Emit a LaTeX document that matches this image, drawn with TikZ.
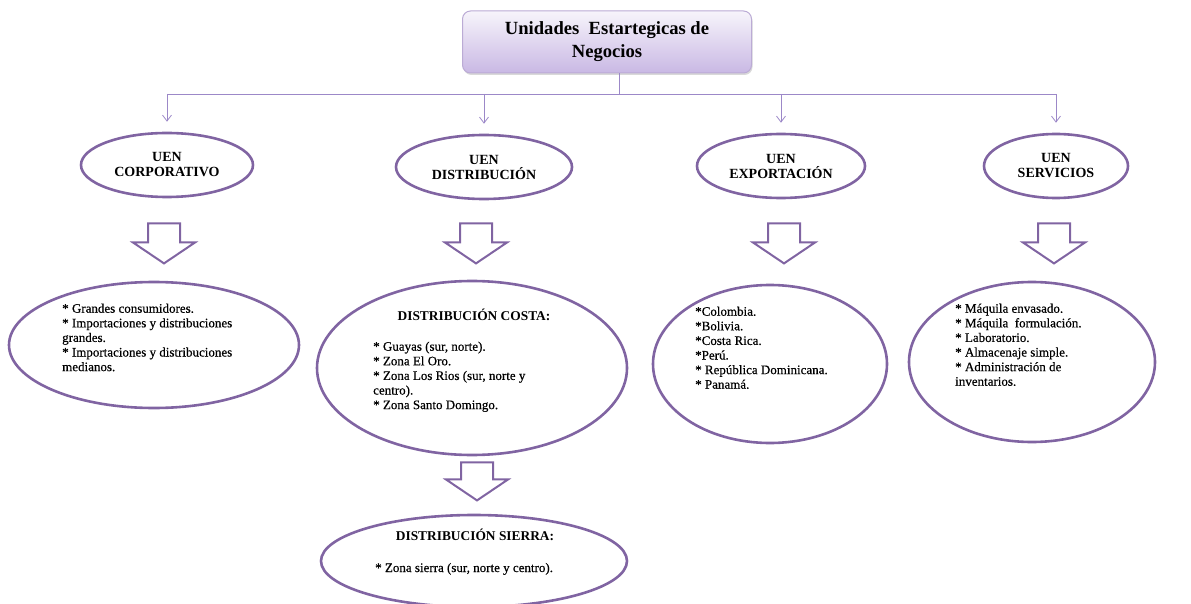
\documentclass[tikz,border=0pt]{standalone}
\usepackage{fontspec}
\setmainfont{Liberation Serif}
\newfontface\cuerpo{Liberation Serif}[FakeBold=0.5]
\usetikzlibrary{shapes.geometric,shapes.arrows,shadows,arrows.meta}
\definecolor{morado}{HTML}{8064A2}
\definecolor{lila}{HTML}{9C88C8}
\definecolor{lavanda}{HTML}{C9B8E4}
\definecolor{bordetit}{HTML}{BBABD5}
\tikzset{
  titulo/.style={draw=bordetit,line width=1pt,rounded corners=8pt,top color=white!85!lavanda,bottom color=lavanda,
    drop shadow={shadow xshift=1pt,shadow yshift=-2pt,opacity=.3},minimum width=289pt,minimum height=62pt,
    align=center,font=\fontsize{18.6}{23}\selectfont\bfseries},
  uen/.style={draw=morado,line width=2.6pt,ellipse,inner sep=0pt,align=center,font=\fontsize{14}{15}\selectfont\bfseries},
  elipse/.style={draw=morado,line width=2.6pt,ellipse,inner sep=0pt},
  lista/.style={inner sep=0pt,align=left,font=\fontsize{13}{14.6}\selectfont\cuerpo},
  cabecera/.style={inner sep=0pt,font=\fontsize{13.4}{14.6}\selectfont\bfseries},
  flecha/.style={single arrow,draw=morado,line width=2pt,shape border rotate=270,minimum height=40pt,minimum width=60pt,
    single arrow head extend=15pt,single arrow tip angle=112,inner xsep=15pt,inner ysep=0pt},
  rama/.style={draw=lila,line width=.8pt,-{Straight Barb[length=6pt,width=9pt]},shorten >=10pt}
}
\begin{document}
\begin{tikzpicture}[x=1pt,y=-1pt]
\useasboundingbox (0,0) rectangle (1191,604);
% titulo
\node[titulo] (tit) at (607,42) {Unidades\ \ Estartegicas de\\Negocios};
% unidades
\node[uen,minimum width=172pt,minimum height=64pt] (corp) at (167,165) {UEN\\CORPORATIVO};
\node[uen,minimum width=176pt,minimum height=64pt] (dist) at (484,167) {UEN\\DISTRIBUCIÓN};
\node[uen,minimum width=168pt,minimum height=64pt] (expo) at (781,166) {UEN\\EXPORTACIÓN};
\node[uen,minimum width=144pt,minimum height=64pt] (serv) at (1056,166) {UEN\\SERVICIOS};
% arbol
\coordinate (nudo) at (619,94);
\draw[lila,line width=.8pt] (nudo |- tit.south) -- (nudo);
\draw[lila,line width=.8pt] (nudo -| corp.north) -- (nudo -| serv.north);
\foreach \u in {corp,dist,expo,serv}
  \draw[rama] (nudo -| \u.north) -- (\u.north);
% flechas
\node[flecha] (fcorp) at (164,238) {};
\node[flecha] (fdist) at (476,238) {};
\node[flecha] (fexpo) at (784,238) {};
\node[flecha] (fserv) at (1054,238) {};
\node[flecha,minimum height=38pt] (fcosta) at (477,476) {};
% detalle
\node[elipse,minimum width=290pt,minimum height=126pt] (corpD) at (154,345) {};
\node[lista,anchor=north west] (corpT) at (62,303.5) {* Grandes consumidores.\\* Importaciones y distribuciones\\grandes.\\* Importaciones y distribuciones\\medianos.};
\node[elipse,minimum width=310pt,minimum height=174pt] (costaD) at (472,368) {};
\node[cabecera,anchor=base] (costaH) at (474,320) {DISTRIBUCIÓN COSTA:};
\node[lista,anchor=north west] (costaT) at (373,341.5) {* Guayas (sur, norte).\\* Zona El Oro.\\* Zona Los Rios (sur, norte y\\centro).\\* Zona Santo Domingo.};
\node[elipse,minimum width=306pt,minimum height=92pt] (sierraD) at (474,561) {};
\node[cabecera,anchor=base] (sierraH) at (475,540) {DISTRIBUCIÓN SIERRA:};
\node[lista,anchor=base west] (sierraT) at (375,572) {* Zona sierra (sur, norte y centro).};
\node[elipse,minimum width=234pt,minimum height=158pt] (expoD) at (770,364) {};
\node[lista,anchor=north west] (expoT) at (695,306.5) {*Colombia.\\*Bolivia.\\*Costa Rica.\\*Perú.\\* República Dominicana.\\* Panamá.};
\node[elipse,minimum width=246pt,minimum height=160pt] (servD) at (1032,362) {};
\node[lista,anchor=north west] (servT) at (955,303.5) {* Máquila envasado.\\* Máquila\ \ formulación.\\* Laboratorio.\\* Almacenaje simple.\\* Administración de\\inventarios.};
\end{tikzpicture}
\end{document}
